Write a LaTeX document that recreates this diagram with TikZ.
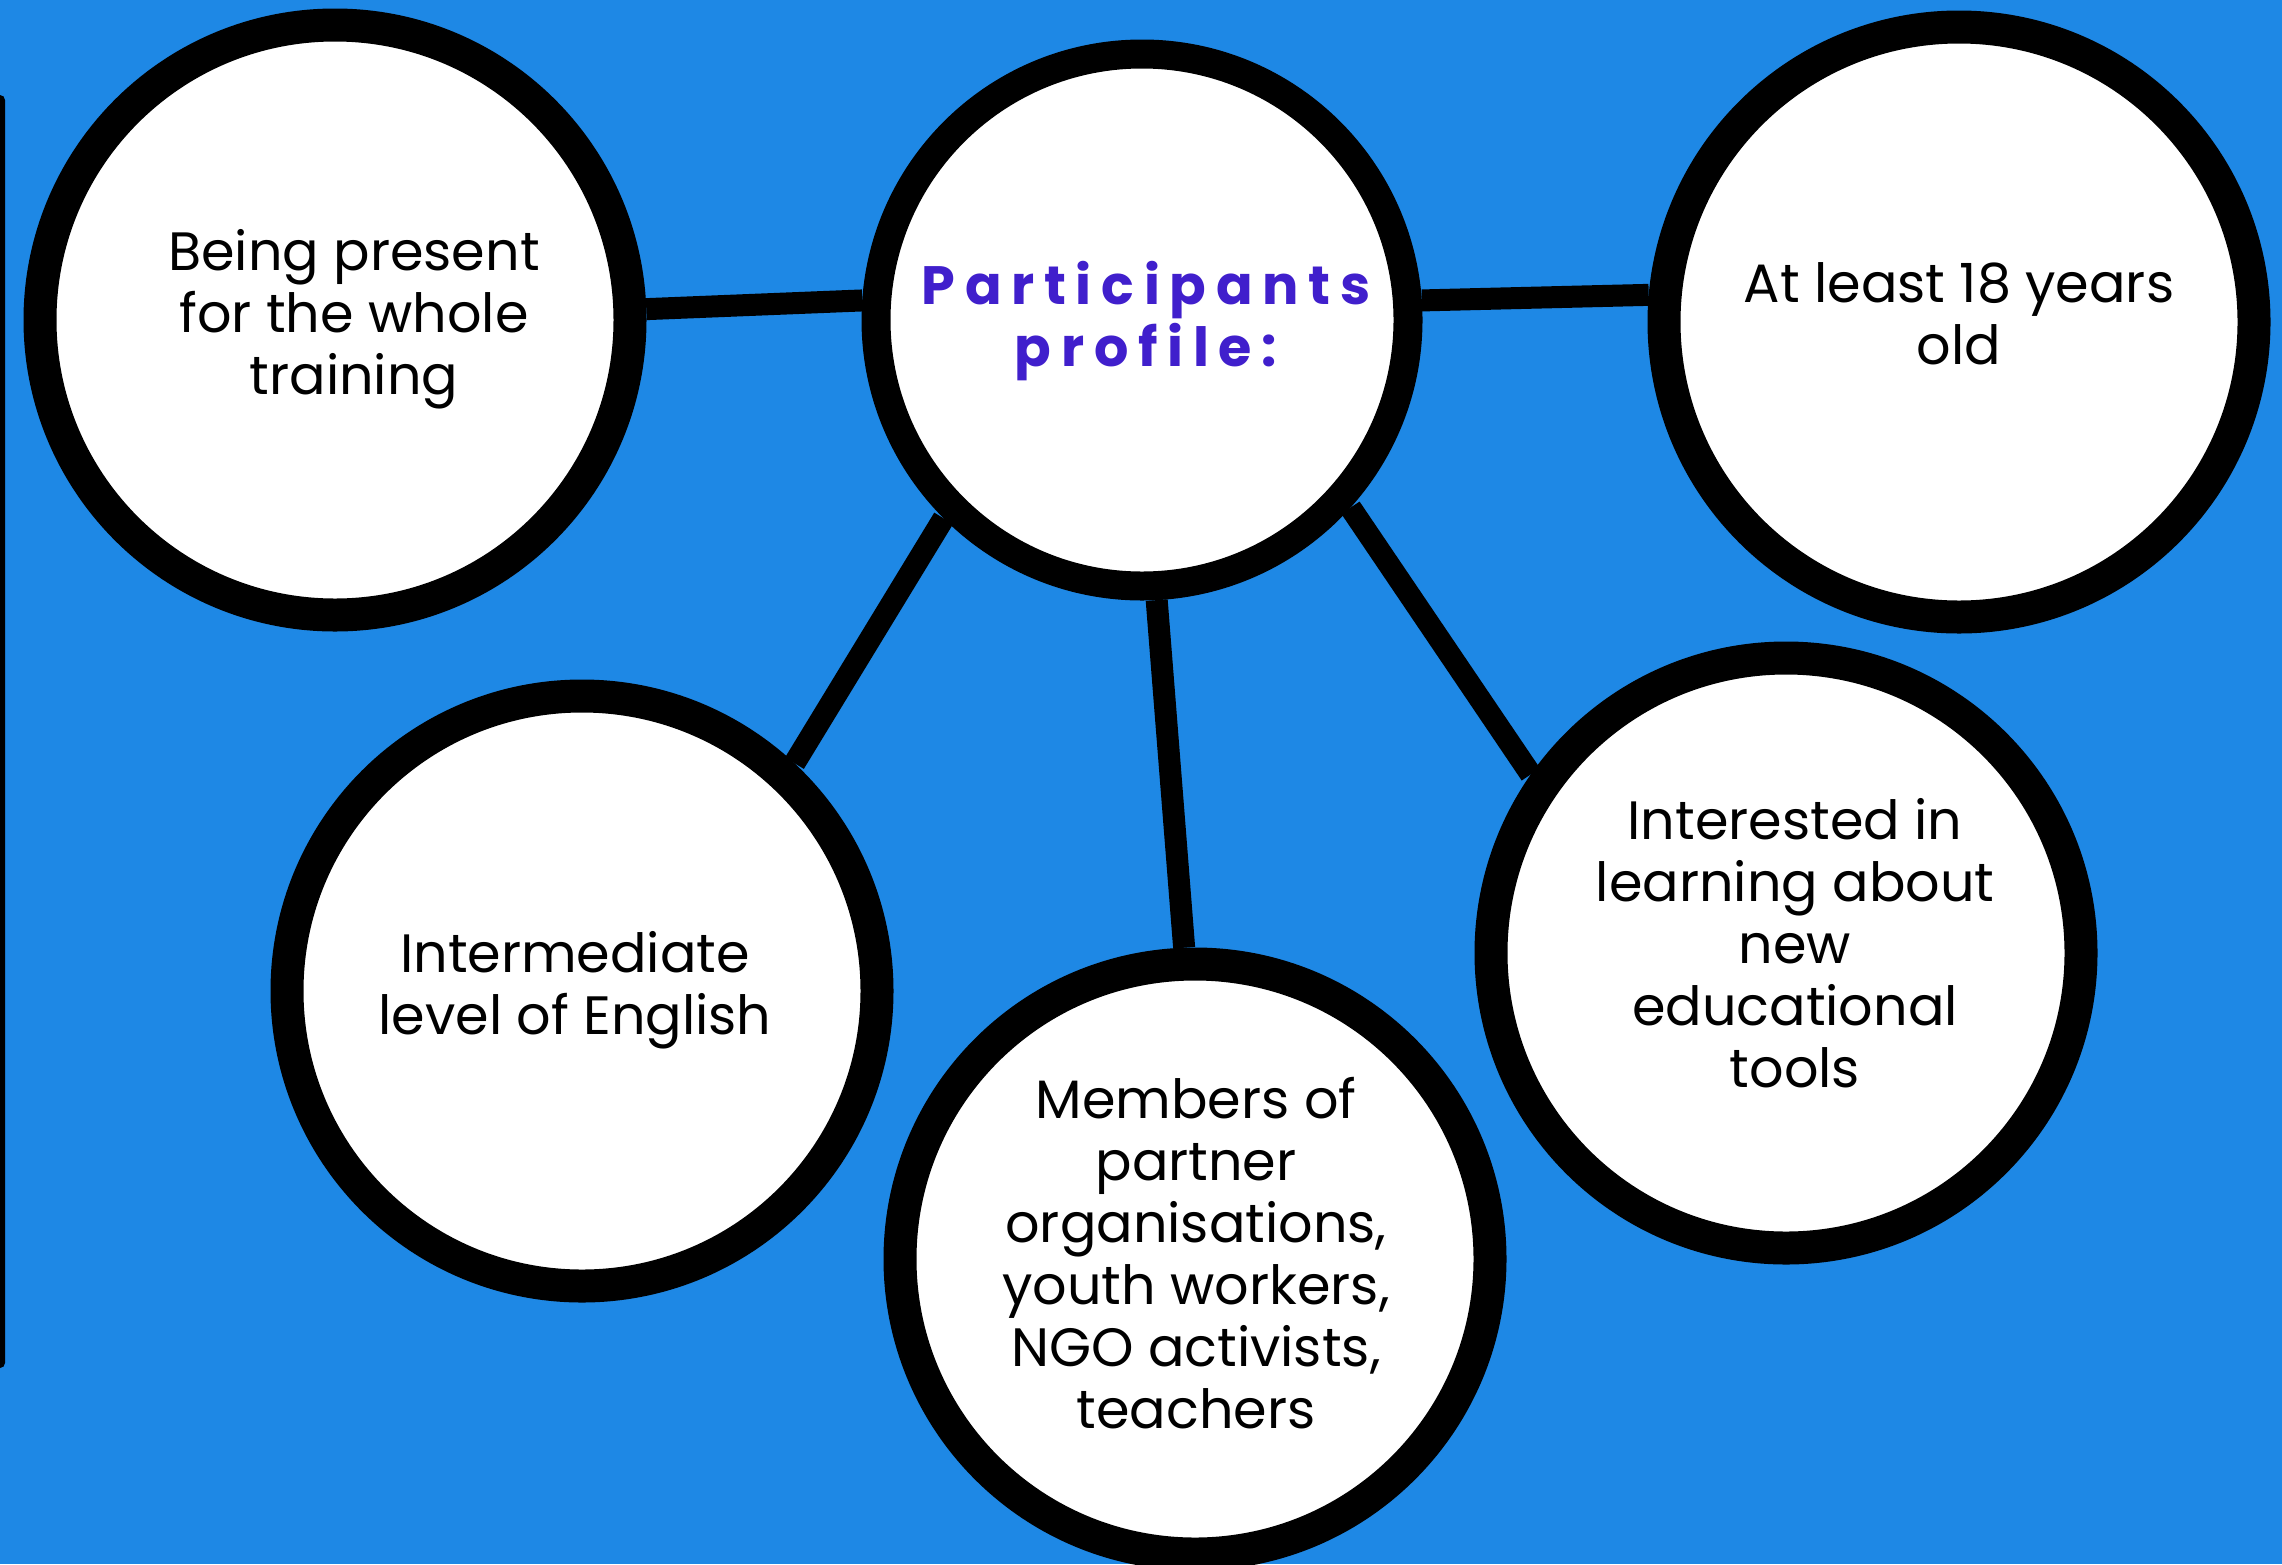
\documentclass[tikz,border=0pt]{standalone}
\usepackage{fontspec}
\setmainfont{Poppins}
\newfontfamily\titlefont{Poppins}[LetterSpace=18]
\definecolor{bgblue}{RGB}{30,136,229}
\definecolor{titleblue}{RGB}{64,31,204}
\tikzset{
  bubble/.style={circle, draw=black, fill=white, line width=33pt, minimum size=590pt, inner sep=0pt},
  hub/.style={circle, draw=black, fill=white, line width=29pt, minimum size=532pt, inner sep=0pt},
  txt/.style={align=center, inner sep=0pt, font=\fontsize{54}{62}\selectfont},
  ttl/.style={align=center, inner sep=0pt, text=titleblue, font=\fontsize{54}{62}\selectfont\titlefont\bfseries},
  link/.style={draw=black, line width=22pt}
}
\begin{document}
\begin{tikzpicture}[x=1pt,y=-1pt]
\useasboundingbox (0,0) rectangle (2282,1564);
\clip (0,0) rectangle (2282,1564);
\fill[bgblue] (0,0) rectangle (2282,1564);
\fill[black, rounded corners=5pt] (-10,95) rectangle (5,1368);
% circles
\node[bubble] (c1) at (335,320) {};
\node[hub] (hub) at (1142,320) {};
\node[bubble] (c2) at (1959,322) {};
\node[bubble] (c3) at (582,991) {};
\node[bubble] (c4) at (1195,1259) {};
\node[bubble] (c5) at (1786,953) {};
% connectors
\draw[link] (c1.2.6) -- (hub.176.2);
\draw[link] (hub.4.3) -- (c2.175.6);
\draw[link] (hub.225) -- (c3.47);
\draw[link] (hub.273) -- (c4.92.5);
\draw[link] (hub.318.8) -- (c5.145.6);
% texts
\node[txt] (t1) at (354,319) {Being present\\for the whole\\training};
\node[ttl] (t0) at (1146,321) {Participants\\profile:};
\node[txt] (t2) at (1959,314) {At least 18 years\\old};
\node[txt] (t3) at (575,990) {Intermediate\\level of English};
\node[txt] (t4) at (1196,1253) {Members of\\partner\\organisations,\\youth workers,\\NGO activists,\\teachers};
\node[txt] (t5) at (1795,943) {Interested in\\learning about\\new\\educational\\tools};
\end{tikzpicture}
\end{document}
